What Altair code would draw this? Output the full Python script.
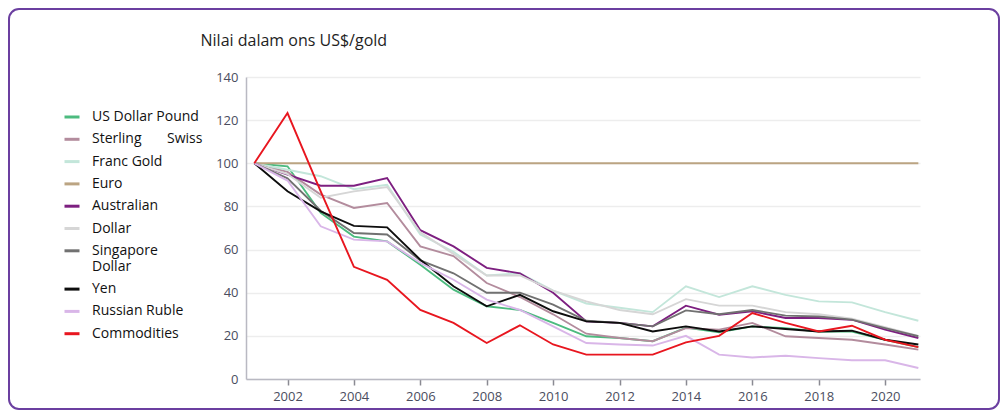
import altair as alt
import pandas as pd

years = list(range(2001, 2022))

series_names = [
    "US Dollar Pound", "Sterling Swiss", "Franc Gold", "Euro", "Australian",
    "Dollar", "Singapore Dollar", "Yen", "Russian Ruble", "Commodities",
]
series_colors = [
    "#4cbb7f", "#b38c9d", "#c3e6da", "#bba482", "#7d1f80",
    "#d6d6d6", "#717171", "#0d0d0d", "#d9b6e8", "#e8161f",
]

s_green = [100, 98.6, 77, 66, 63.8, 53, 41.4, 33.7, 32, 26, 19.8, 19, 17.5, 23.8, 21.6, 24.4, 23.6, 22, 22, 18.2, 14.8]
s_mauve = [100, 96, 85.5, 79.3, 81.6, 61.5, 57, 44.5, 38, 30, 21, 19, 17.5, 23.6, 22.9, 26, 19.8, 19, 18.2, 16, 13.6]
s_mint = [100, 97, 94, 88, 90, 67, 59, 48, 49, 41, 35, 33, 31, 43, 38, 43, 39, 36, 35.5, 31, 27]
s_gold = [100] * 21
s_purple = [100, 94.7, 89.6, 89.6, 93.2, 69, 61.5, 51.5, 49, 40, 26.7, 26, 24.4, 34, 29.8, 31.4, 28.3, 28.3, 27.5, 22.9, 19]
s_lgrey = [100, 95, 84, 87, 89, 68, 58, 48, 48, 41, 36, 32, 30, 37, 34, 34, 31, 30, 28, 24, 20]
s_grey = [100, 93, 78, 67.7, 67, 55, 49, 40, 40, 34.5, 27, 26, 24.4, 31.8, 30, 32, 29.4, 29, 27.5, 23.6, 19.8]
s_black = [100, 87, 77.7, 71, 70.3, 55.3, 43, 33.7, 39, 31.4, 26.7, 26, 22, 24.4, 22, 24.4, 23.2, 22, 22.4, 18.2, 16]
s_lav = [100, 92, 70.8, 64.6, 63.8, 53.8, 46, 36.8, 32, 24.4, 16.7, 16, 15.5, 20, 11.3, 10, 10.8, 9.7, 8.7, 8.7, 5.1]
s_red = [100, 123.3, 87, 52, 46, 32, 26, 16.7, 24.9, 16, 11.3, 11.3, 11.3, 17, 20, 30.6, 26, 22, 24.7, 18.2, 14.8]

all_series = [s_green, s_mauve, s_mint, s_gold, s_purple, s_lgrey, s_grey, s_black, s_lav, s_red]

x_ticks = list(range(2002, 2021, 2))
y_ticks = list(range(0, 141, 20))

rows = []
for name, vals in zip(series_names, all_series):
    for yr, v in zip(years, vals):
        rows.append({"year": yr, "value": v, "series": name})
df = pd.DataFrame(rows)

nb = "\u00a0"
label_expr = (
    "datum.label == 'Singapore Dollar' ? ['Singapore', 'Dollar'] : "
    "datum.label == 'Sterling Swiss' ? 'Sterling" + nb * 7 + "Swiss' : datum.label"
)

FONT = "Open Sans"

lines = alt.Chart(df).mark_line(strokeWidth=1.9).encode(
    x=alt.X(
        "year:Q",
        scale=alt.Scale(domain=[2000.75, 2021.05], nice=False, zero=False),
        axis=alt.Axis(
            values=x_ticks, format="d", title=None, grid=False,
            ticks=True, tickSize=6, tickColor="#8a8a92", tickWidth=1.5,
            domainColor="#b9b9c2", domainWidth=1.5,
            labelFont=FONT, labelFontSize=13, labelColor="#4a4d5e", labelPadding=5,
        ),
    ),
    y=alt.Y(
        "value:Q",
        scale=alt.Scale(domain=[0, 140], nice=False),
        axis=alt.Axis(
            values=y_ticks, title="Nilai dalam ons US$/gold",
            titleAngle=0, titleAlign="left", titleBaseline="alphabetic",
            titleX=-46, titleY=-32, titleFont=FONT, titleFontSize=16,
            titleFontWeight="normal", titleColor="#1e1e1e",
            ticks=False, labelPadding=8, grid=True, gridColor="#ededed", gridWidth=1.5,
            domainColor="#b9b9c2", domainWidth=1.5,
            labelFont=FONT, labelFontSize=13, labelColor="#4a4d5e",
        ),
    ),
    stroke=alt.Stroke(
        "series:N",
        scale=alt.Scale(domain=series_names, range=series_colors),
        legend=alt.Legend(
            title=None, orient="none", legendX=-183, legendY=31,
            symbolType="stroke", symbolSize=225, symbolStrokeWidth=3,
            labelFont=FONT, labelFontSize=14, labelColor="#111111",
            labelOffset=11, rowPadding=6.3, padding=0, labelExpr=label_expr,
            labelLimit=300,
        ),
    ),
)

frame = alt.Chart(pd.DataFrame({"k": [0]})).mark_rect(
    fillOpacity=0, stroke="#6b3fa0", strokeWidth=2, cornerRadius=10
).encode(
    x=alt.value(-237), x2=alt.value(753), y=alt.value(-68), y2=alt.value(332)
)

chart = alt.layer(frame, lines).properties(
    width=674, height=302,
    autosize=alt.AutoSizeParams(type="none"),
    padding={"left": 238, "top": 69, "right": 80, "bottom": 32},
    background="white",
).configure_view(stroke=None)

chart.save("out.html", embed_options={"renderer": "svg", "actions": False})
